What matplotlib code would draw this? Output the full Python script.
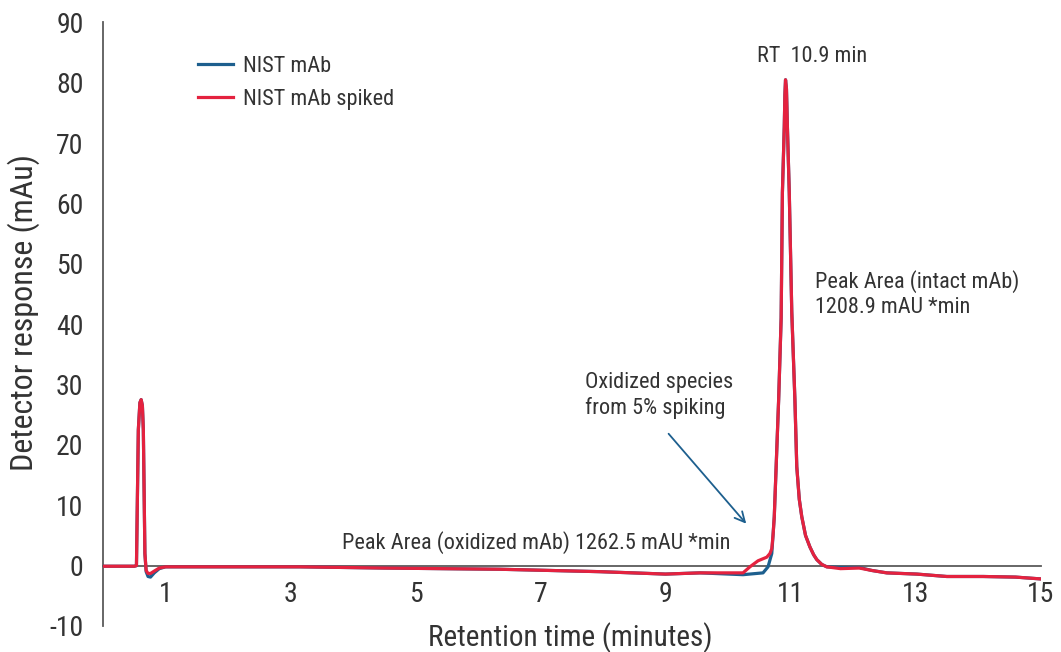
import matplotlib
matplotlib.use("Agg")
import matplotlib.pyplot as plt
from matplotlib import font_manager

# look for a narrow sans font like the one in the reference
narrow = None
stretch = 'normal'
files = font_manager.findSystemFonts()
for key in ['LiberationSansNarrow-Regular', 'RobotoCondensed-Regular', 'DejaVuSansCondensed.ttf']:
    hits = [f for f in files if key in f.replace(' ', '').replace('_', '')]
    if hits:
        font_manager.fontManager.addfont(hits[0])
        fp = font_manager.FontProperties(fname=hits[0])
        narrow = fp.get_name()
        stretch = fp.get_stretch()
        break

if narrow:
    plt.rcParams['font.family'] = [narrow, 'DejaVu Sans']
    plt.rcParams['font.stretch'] = stretch
    scale = 1.0
else:
    plt.rcParams['font.family'] = ['Roboto', 'DejaVu Sans']
    scale = 0.9
plt.rcParams['axes.unicode_minus'] = False
fs_tick, fs_ylab, fs_xlab, fs_small = 20 * scale, 23 * scale, 21 * scale, 16 * scale

# retention time (min) and detector response (mAU)
nist_t = [0.0, 0.50, 0.535, 0.565, 0.59, 0.61, 0.63, 0.645, 0.67, 0.69, 0.72, 0.76, 0.82, 0.90,
          1.0, 2.0, 3.15, 4.5, 6.35, 7.95, 9.0, 9.55, 10.24, 10.56, 10.64, 10.70,
          10.72, 10.74, 10.77, 10.81, 10.85, 10.87, 10.90, 10.91, 10.92, 10.935, 10.95, 10.98,
          11.02, 11.07, 11.10, 11.14, 11.18, 11.24, 11.31, 11.37, 11.42, 11.50, 11.58,
          11.8, 12.1, 12.3, 12.54, 13.02, 13.5, 14.08, 14.6, 15.0]
nist_y = [-0.1, -0.1, 0.0, 22.5, 27.0, 27.5, 26.5, 22.5, 2.0, -1.0, -1.8, -1.9, -1.2, -0.5,
          -0.2, -0.2, -0.2, -0.4, -0.6, -1.0, -1.4, -1.2, -1.5, -1.2, -0.2, 2.0,
          5.0, 8.1, 16.4, 27.5, 41.0, 61.8, 72.7, 78.0, 80.5, 79.0, 72.7, 61.8,
          42.0, 27.5, 16.4, 11.0, 8.1, 5.0, 3.1, 1.8, 1.0, 0.2, -0.2,
          -0.3, -0.3, -0.8, -1.2, -1.4, -1.8, -1.8, -1.9, -2.2]

spiked_t = [0.0, 0.50, 0.535, 0.565, 0.59, 0.61, 0.63, 0.645, 0.67, 0.69, 0.72, 0.76, 0.82, 0.90,
            1.0, 2.0, 3.15, 4.5, 6.35, 7.95, 9.0, 9.55, 10.24, 10.35, 10.48, 10.62, 10.67, 10.70,
            10.72, 10.74, 10.77, 10.81, 10.85, 10.87, 10.90, 10.91, 10.92, 10.935, 10.95, 10.98,
            11.02, 11.07, 11.10, 11.14, 11.18, 11.24, 11.31, 11.37, 11.42, 11.50, 11.58,
            11.8, 12.1, 12.3, 12.54, 13.02, 13.5, 14.08, 14.6, 15.0]
spiked_y = [-0.1, -0.1, 0.0, 22.5, 27.0, 27.5, 26.5, 22.5, 2.0, -0.8, -1.3, -1.3, -0.9, -0.4,
            -0.2, -0.2, -0.2, -0.4, -0.6, -1.0, -1.4, -1.2, -1.2, -0.2, 0.8, 1.4, 2.0, 2.8,
            5.0, 8.1, 16.4, 27.5, 41.0, 61.8, 72.7, 78.0, 80.5, 79.0, 72.7, 61.8,
            42.0, 27.5, 16.4, 11.0, 8.1, 5.0, 3.1, 1.8, 1.0, 0.2, -0.2,
            -0.5, -0.4, -0.8, -1.2, -1.4, -1.8, -1.8, -1.9, -2.2]

x_ticks = [1, 3, 5, 7, 9, 11, 13, 15]
y_ticks = [-10, 0, 10, 20, 30, 40, 50, 60, 70, 80, 90]

blue = '#1d5f8e'
red = '#e4223f'
grey = '#5a5a5a'
txt = '#333333'

fig = plt.figure(figsize=(10.61, 6.52), dpi=100)
ax = fig.add_axes([0.0971, 0.0399, 0.8836, 0.9257])

ax.plot(nist_t, nist_y, color=blue, lw=2.3, label='NIST mAb', solid_joinstyle='round')
ax.plot(spiked_t, spiked_y, color=red, lw=2.3, label='NIST mAb spiked', solid_joinstyle='round')

ax.set_xlim(0, 15)
ax.set_ylim(-10, 90)
ax.set_xticks(x_ticks)
ax.set_yticks(y_ticks)
ax.spines['top'].set_visible(False)
ax.spines['right'].set_visible(False)
ax.spines['bottom'].set_position(('data', 0))
for s in ('left', 'bottom'):
    ax.spines[s].set_color(grey)
    ax.spines[s].set_linewidth(1.3)
    ax.spines[s].set_zorder(0)
ax.tick_params(axis='x', length=0, pad=11, labelsize=fs_tick, labelcolor=txt)
ax.tick_params(axis='y', length=0, pad=14, labelsize=fs_tick, labelcolor=txt)

fig.text(0.022, 0.52, 'Detector response (mAu)', fontsize=fs_ylab, color=txt,
         rotation=90, ha='center', va='center')
fig.text(0.537, 0.022, 'Retention time (minutes)', fontsize=fs_xlab, color=txt,
         ha='center', va='center')

ann = dict(fontsize=fs_small, color=txt)
ax.text(11.34, 84.3, 'RT  10.9 min', ha='center', va='center', **ann)
ax.text(11.39, 49.0, 'Peak Area (intact mAb)\n1208.9 mAU *min', ha='left', va='top',
        linespacing=1.25, **ann)
ax.text(7.71, 32.0, 'Oxidized species\nfrom 5% spiking', ha='left', va='top',
        linespacing=1.2, **ann)
ax.text(3.82, 3.8, 'Peak Area (oxidized mAb) 1262.5 mAU *min', ha='left', va='center', **ann)
ax.annotate('', xy=(10.32, 6.6), xytext=(9.02, 22.2),
            arrowprops=dict(arrowstyle='->', color=blue, lw=1.3, mutation_scale=18))

ax.legend(loc='upper left', bbox_to_anchor=(0.101, 0.945), frameon=False,
          fontsize=fs_small, handlelength=1.6, handletextpad=0.45, labelspacing=0.55,
          borderpad=0, borderaxespad=0, labelcolor=txt)

fig.savefig('out.png', dpi=100)
